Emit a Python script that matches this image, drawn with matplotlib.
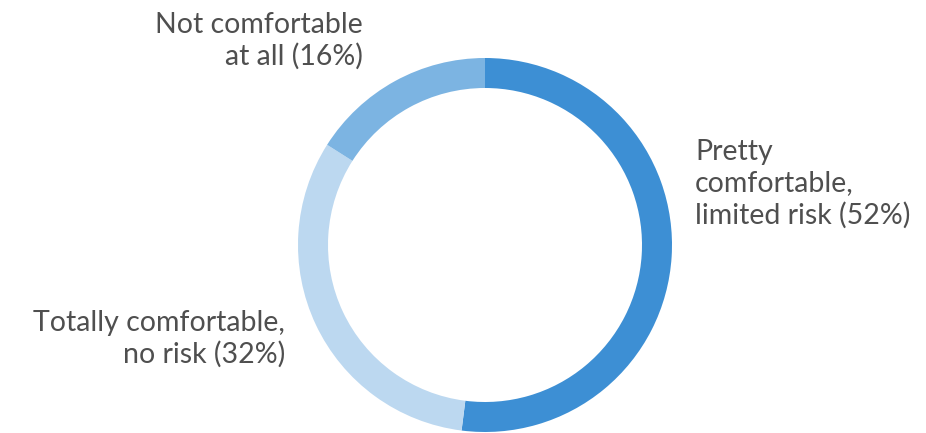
import matplotlib
matplotlib.use('Agg')
import matplotlib.pyplot as plt

# survey answers, clockwise from the top
labels = ['Pretty\ncomfortable,\nlimited risk (52%)',
          'Totally comfortable,\nno risk (32%)',
          'Not comfortable\nat all (16%)']
shares = [52, 32, 16]
colors = ['#3d8fd4', '#bcd8f0', '#7cb4e2']

W, H = 926, 433
CX, CY = 485, H - 245
R = 187
RING = 30
TEXT_COLOR = '#4f4f4f'
FS = 20.5

plt.rcParams['font.family'] = ['Lato', 'DejaVu Sans']

fig = plt.figure(figsize=(W / 100, H / 100), dpi=100)
ax = fig.add_axes([0, 0, 1, 1])

ax.pie(shares, colors=colors, startangle=90, counterclock=False,
       center=(CX, CY), radius=R, frame=True,
       wedgeprops=dict(width=RING, linewidth=0))
ax.set_xlim(0, W)
ax.set_ylim(0, H)
ax.axis('off')

# label placement (pixel coords, y from top)
ax.text(695, H - 184, labels[0], ha='left', va='center',
        fontsize=FS, color=TEXT_COLOR, linespacing=1.25)
ax.text(285, H - 339, labels[1], ha='right', va='center',
        fontsize=FS, color=TEXT_COLOR, linespacing=1.25, multialignment='right')
ax.text(363, H - 41, labels[2], ha='right', va='center',
        fontsize=FS, color=TEXT_COLOR, linespacing=1.25, multialignment='right')

fig.savefig('out.png', dpi=100)
